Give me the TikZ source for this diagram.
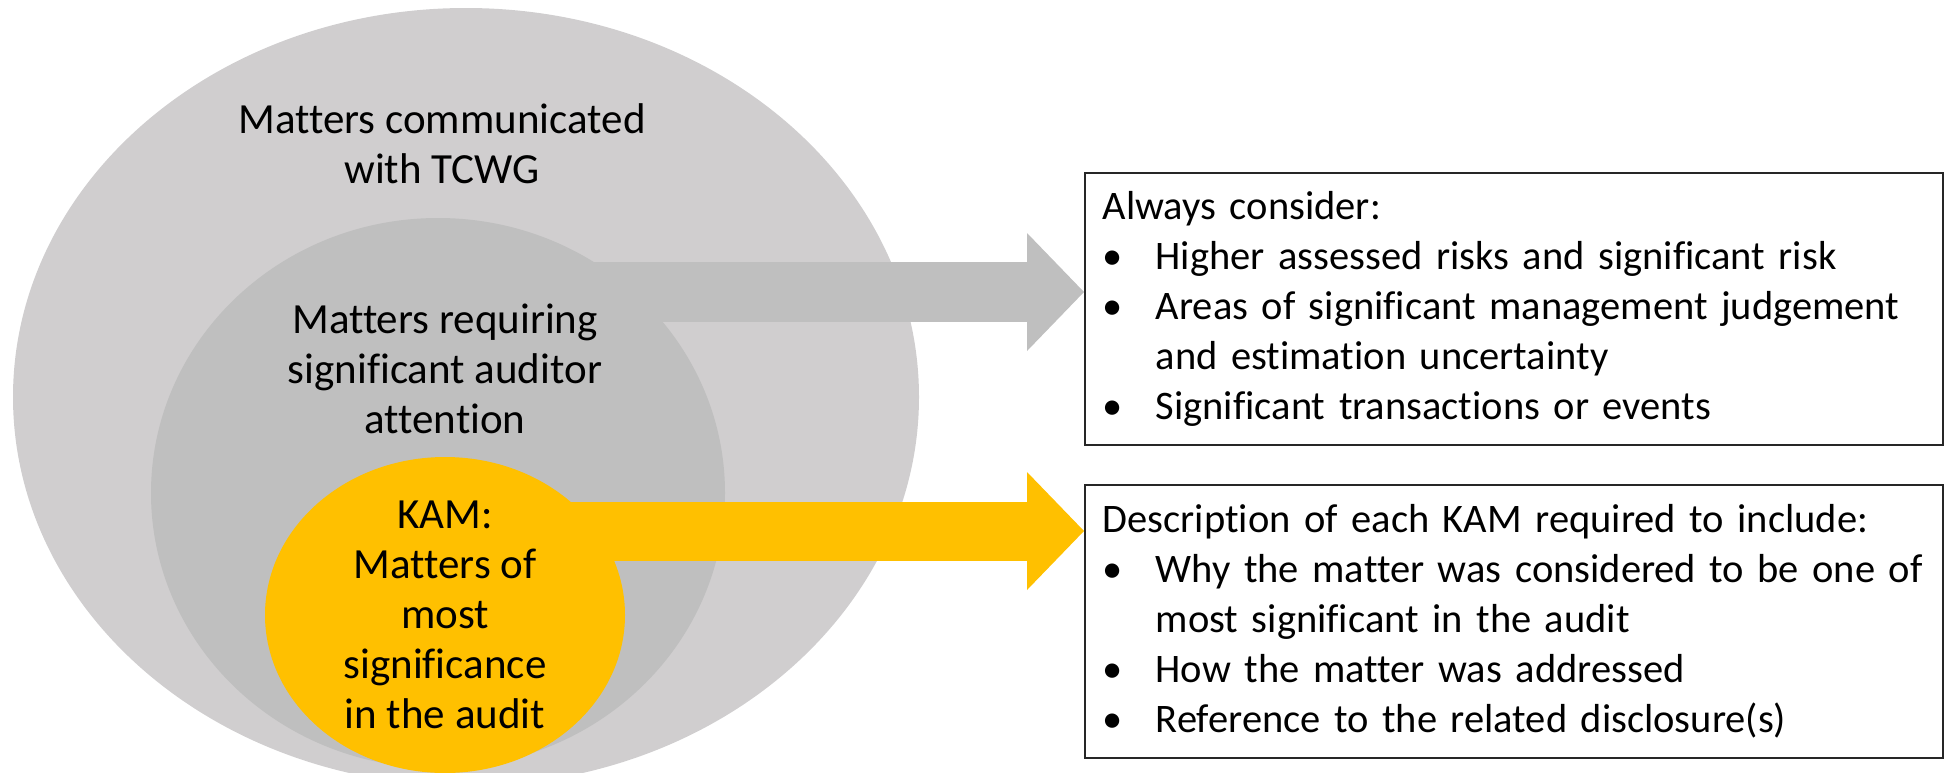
\documentclass[tikz,border=0pt]{standalone}
\usepackage{fontspec}
\setmainfont{Carlito}[Ligatures=CommonOff]
\usetikzlibrary{arrows.meta, positioning, shapes.geometric}

\definecolor{tcwggrey}{RGB}{208,206,207}
\definecolor{attngrey}{RGB}{191,191,191}
\definecolor{kamyellow}{RGB}{255,192,0}

\newcommand{\bul}{\makebox[53pt][l]{\textbullet}}

\begin{document}
\begin{tikzpicture}[x=1pt, y=-1pt,
    blob/.style={ellipse, inner sep=0pt},
    lbl/.style={align=center, anchor=base, font=\fontsize{43}{50}\selectfont},
    infobox/.style={draw=black!85, line width=1.5pt, anchor=north west,
      inner xsep=18pt, text width=822pt, minimum width=858pt, minimum height=272pt,
      align=left, font=\fontsize{40.5}{50}\selectfont},
    blockarrow/.style={line width=#1, -{Triangle[length=57pt, width=118pt, line width=0pt]}}]
    \useasboundingbox (0,0) rectangle (1946,772);

    % --- Nested ellipses ---
    \node[blob, fill=tcwggrey, minimum width=906pt, minimum height=778pt] (tcwg) at (466,397) {};
    \node[blob, fill=attngrey, minimum width=574pt, minimum height=550pt] (attn) at (438,493) {};

    % --- Boxes on the right ---
    \node[infobox] (consider) at (1084,172) {Always consider:\\
      \bul Higher assessed risks and significant risk\\
      \bul Areas of significant management judgement\\
      \hspace*{53pt}and estimation uncertainty\\
      \bul Significant transactions or events};
    \node[infobox, minimum height=273pt] (describe) at (1084,484) {Description of each KAM required to include:\\
      \bul Why the matter was considered to be one of\\
      \hspace*{53pt}most significant in the audit\\
      \bul How the matter was addressed\\
      \bul Reference to the related disclosure(s)};

    % --- Grey arrow out of the middle ellipse ---
    \coordinate (attnout) at (560,292);
    \draw[blockarrow=60pt, attngrey] (attnout) -- (attnout -| consider.west);

    % --- KAM circle and its arrow ---
    \node[blob, fill=kamyellow, minimum width=360pt, minimum height=316pt] (kam) at (445,615) {};
    \coordinate (kamout) at (520,531);
    \draw[blockarrow=59pt, kamyellow] (kamout) -- (kamout -| describe.west);

    % --- Labels (anchored on the last line) ---
    \node[lbl] (tcwglbl) at (442,183) {Matters communicated\\with TCWG};
    \node[lbl] (attnlbl) at (445,433) {Matters requiring\\significant auditor\\attention};
    \node[lbl] (kamlbl) at (445,728) {KAM:\\Matters of\\most\\significance\\in the audit};
\end{tikzpicture}
\end{document}
